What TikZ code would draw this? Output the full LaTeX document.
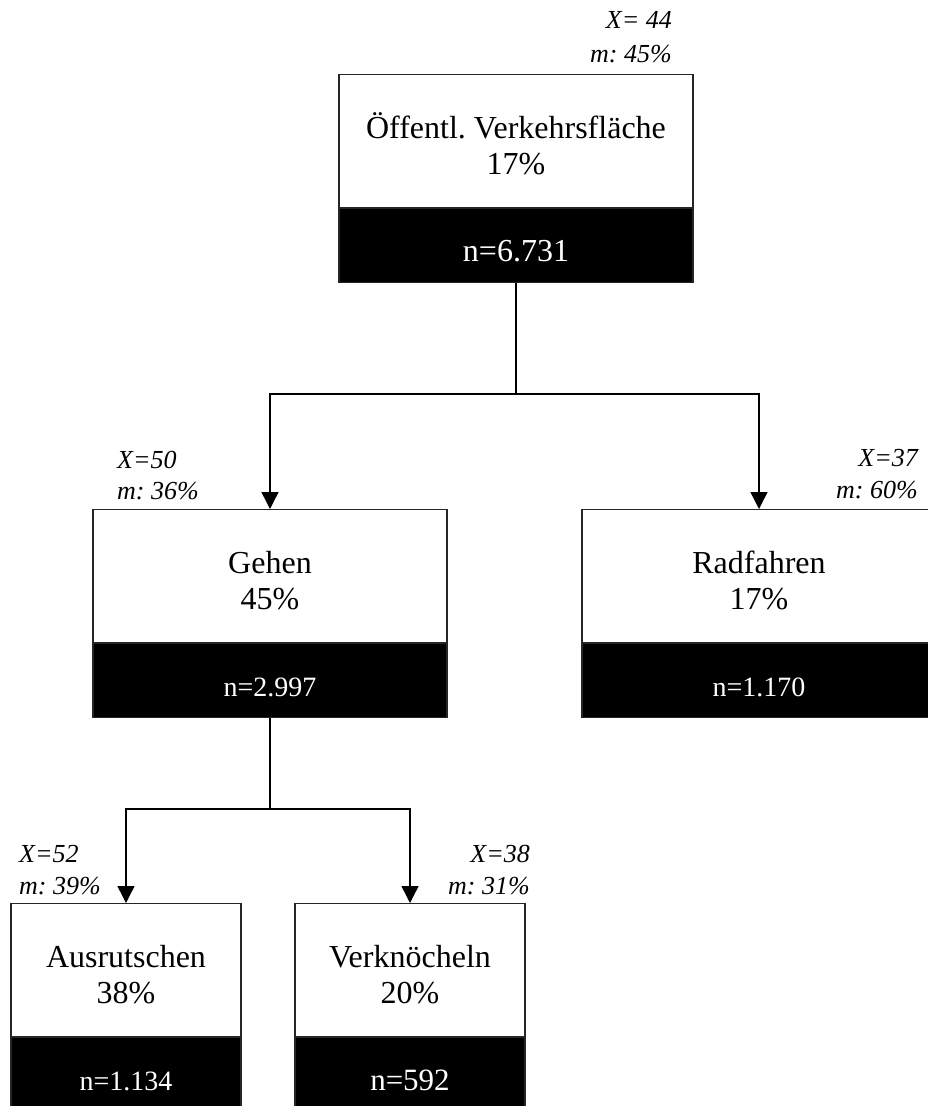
\documentclass[tikz,border=0pt]{standalone}
\usepackage{fontspec}
\setmainfont{Liberation Serif}
\usetikzlibrary{arrows.meta}
\frenchspacing

% one category box: name, centre x, top y, width, title, share, count
\newcommand\catbox[7]{%
  \node[upperpart, minimum width=#4] (#1) at (#2,#3) {};
  \node[lowerpart, minimum width=#4] (#1n) at (#1.south) {};
  \node[titletext] (#1t) at ([yshift=-64pt]#1.north) {#5};
  \node[titletext] (#1p) at ([yshift=-100pt]#1.north) {#6};
  \node[counttext] (#1c) at ([yshift=-53pt]#1n.north) {#7};
}

\begin{document}
\begin{tikzpicture}[x=1pt,y=-1pt,
  upperpart/.style={draw=black!85, line width=1.2pt, fill=white,
    minimum height=133pt, inner sep=0pt, anchor=north},
  lowerpart/.style={draw=black!85, line width=1.2pt, fill=black,
    minimum height=74pt, inner sep=0pt, anchor=north},
  titletext/.style={anchor=base, inner sep=0pt,
    font=\fontsize{32}{36}\selectfont\frenchspacing},
  counttext/.style={anchor=base, inner sep=0pt, text=white,
    font=\fontsize{28}{32}\selectfont},
  statleft/.style={anchor=base west, inner sep=0pt,
    font=\fontsize{26}{30}\selectfont\itshape\frenchspacing},
  statright/.style={anchor=base east, inner sep=0pt,
    font=\fontsize{26}{30}\selectfont\itshape\frenchspacing},
  link/.style={draw=black, line width=1.4pt},
  arrowlink/.style={link, -{Triangle[width=17pt,length=17pt]}}
]
\useasboundingbox (0,0) rectangle (927,1106);

% boxes
\catbox{root}{516}{74}{354}{Öffentl. Verkehrsfläche}{17\%}%
  {\fontsize{32}{36}\selectfont n=6.731}
\catbox{gehen}{270}{509}{354}{Gehen}{45\%}{n=2.997}
\catbox{rad}{759}{509}{354}{Radfahren}{17\%}{n=1.170}
\catbox{rutsch}{126}{903}{230}{Ausrutschen}{38\%}{n=1.134}
\catbox{knoechel}{410}{903}{230}{Verknöcheln}{20\%}%
  {\fontsize{31}{34}\selectfont n=592}

% statistics above the boxes
\node[statright] (rootx) at (672,28) {X= 44};
\node[statright] (rootm) at (672,62) {m: 45\%};
\node[statleft] (gehenx) at (117,468) {X=50};
\node[statleft] (gehenm) at (117,499) {m: 36\%};
\node[statright] (radx) at (918,466) {X=37};
\node[statright] (radm) at (918,498) {m: 60\%};
\node[statleft] (rutschx) at (19,862) {X=52};
\node[statleft] (rutschm) at (19,894) {m: 39\%};
\node[statright] (knoechelx) at (530,862) {X=38};
\node[statright] (knoechelm) at (530,894) {m: 31\%};

% connectors
\coordinate (split1) at (516,394);
\coordinate (split2) at (270,809);
\draw[link] (rootn.south) -- (split1);
\draw[arrowlink] (split1) -| (gehen.north);
\draw[arrowlink] (split1) -| (rad.north);
\draw[link] (gehenn.south) -- (split2);
\draw[arrowlink] (split2) -| (rutsch.north);
\draw[arrowlink] (split2) -| (knoechel.north);
\end{tikzpicture}
\end{document}
